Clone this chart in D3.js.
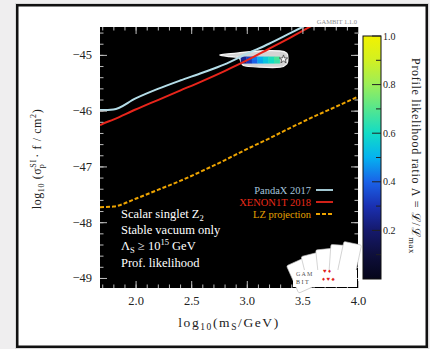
<!DOCTYPE html>
<html>
<head>
<meta charset="utf-8">
<script src="https://cdn.jsdelivr.net/npm/d3@7"></script>
<style>
  html, body { margin: 0; padding: 0; background: #efeeef; }
  svg { display: block; }
  text { font-family: "Liberation Serif", "DejaVu Serif", serif; }
</style>
</head>
<body>
<svg id="fig" width="430" height="349"></svg>
<script>
// ---- data ----
const massTicks = [2.0, 2.5, 3.0, 3.5, 4.0];
const sigmaTicks = [-45, -46, -47, -48, -49];
const ratioTicks = [0.2, 0.4, 0.6, 0.8, 1.0];

// direct-detection limits, log10(m_S/GeV) vs log10(sigma/cm^2)
const limitMass   = [1.68, 1.7, 1.8, 2.0, 2.2, 2.4, 2.6, 2.8, 3.0, 3.2, 3.4, 3.6];
const pandaxSigma = [-45.99, -45.99, -45.98, -45.78, -45.61, -45.46, -45.32, -45.17, -44.98, -44.80, -44.60, -44.40];
const xenonSigma  = [-46.26, -46.24, -46.16, -45.98, -45.81, -45.64, -45.47, -45.29, -45.10, -44.89, -44.68, -44.46];
const lzMass      = [1.68, 1.8, 2.0, 2.2, 2.4, 2.6, 2.8, 3.0, 3.2, 3.4, 3.6, 3.8, 4.0];
const lzSigma     = [-47.73, -47.72, -47.58, -47.42, -47.26, -47.08, -46.89, -46.69, -46.50, -46.30, -46.11, -45.93, -45.75];

// profile likelihood cells
const fitMass = [2.97, 3.02, 3.07, 3.12, 3.17, 3.22, 3.27];
const fitSigma = [-45.06, -45.12];
const fitRatio = [
  [0.26, 0.34, 0.43, 0.50, 0.56, 0.62, 0.68],
  [0.22, 0.31, 0.40, 0.48, 0.54, 0.60, 0.65]
];
// outer (2 sigma) contour
const contourMass  = [2.76, 2.94, 3.12, 3.30, 3.36, 3.37, 3.36, 3.30, 3.12, 2.97, 2.93, 2.84];
const contourSigma = [-45.00, -44.96, -44.93, -44.93, -44.97, -45.06, -45.16, -45.22, -45.22, -45.19, -45.05, -45.03];
const bestFitMass = 3.33, bestFitSigma = -45.08;

// colour map of the likelihood ratio
const ratioStops  = [0.0, 0.1, 0.2, 0.3, 0.4, 0.5, 0.6, 0.7, 0.8, 0.9, 1.0];
const ratioColors = ["#05051a", "#0e0f3c", "#15196c", "#1a30b2", "#1a62e8", "#05b2f0", "#12dcc6", "#55e68e", "#9cee58", "#d2f022", "#f2f200"];

const legendNames  = ["PandaX 2017", "XENON1T 2018", "LZ projection"];
const legendColors = ["#b4dde8", "#e8251b", "#eea400"];
const legendTextColors = ["#a6c4dc", "#ea2a18", "#e6a000"];
const notes = ["Scalar singlet Z", "Stable vacuum only", "Λ", "Prof. likelihood"];

// ---- layout ----
const svg = d3.select("#fig");
const P = { left: 100, right: 358, top: 27, bottom: 288 };

const x = d3.scaleLinear().domain([1.68, 4.0]).range([P.left, P.right]);
const y = d3.scaleLinear().domain([-49.18, -44.5]).range([P.bottom, P.top]);
const cScale = d3.scaleLinear().domain(ratioStops).range(ratioColors).clamp(true);
const cy = d3.scaleLinear().domain([0, 1]).range([279, 36]);

// card
svg.append("rect").attr("x", 15).attr("y", 3).attr("width", 414).attr("height", 346).attr("fill", "#d8d8d8");
svg.append("rect").attr("x", 17.25).attr("y", 5.25).attr("width", 409.5).attr("height", 341.5)
  .attr("fill", "#fff").attr("stroke", "#111").attr("stroke-width", 2.5);

const defs = svg.append("defs");
defs.append("clipPath").attr("id", "plotClip").append("rect")
  .attr("x", P.left).attr("y", P.top).attr("width", P.right - P.left).attr("height", P.bottom - P.top);

// plot background
svg.append("rect").attr("x", P.left).attr("y", P.top)
  .attr("width", P.right - P.left).attr("height", P.bottom - P.top).attr("fill", "#000");

const plot = svg.append("g").attr("clip-path", "url(#plotClip)");

// likelihood region
const contourPts = contourMass.map((m, i) => [x(m), y(contourSigma[i])]);
plot.append("path")
  .attr("d", d3.line().curve(d3.curveCardinalClosed.tension(0.3))(contourPts))
  .attr("fill", "#d4d4d4").attr("stroke", "#f6f6f6").attr("stroke-width", 1.3);

const cellW = x(fitMass[1]) - x(fitMass[0]);
const cellH = y(fitSigma[1]) - y(fitSigma[0]);
fitSigma.forEach((s, r) => {
  plot.selectAll(null).data(fitMass).enter().append("rect")
    .attr("x", d => x(d) - cellW / 2)
    .attr("y", y(s) - Math.abs(cellH) / 2)
    .attr("width", cellW + 0.3)
    .attr("height", Math.abs(cellH) + 0.3)
    .attr("fill", (d, i) => cScale(fitRatio[r][i]));
});
plot.append("path")
  .attr("d", d3.symbol(d3.symbolStar, 22)())
  .attr("transform", `translate(${x(bestFitMass)},${y(bestFitSigma)})`)
  .attr("fill", "#fff").attr("stroke", "#444").attr("stroke-width", 0.8);

// limit curves
const curve = (ms, ss) => d3.line().curve(d3.curveMonotoneX)(ms.map((m, i) => [x(m), y(ss[i])]));
plot.append("path").attr("d", curve(lzMass, lzSigma)).attr("fill", "none")
  .attr("stroke", legendColors[2]).attr("stroke-width", 2).attr("stroke-dasharray", "4,2");
plot.append("path").attr("d", curve(limitMass, xenonSigma)).attr("fill", "none")
  .attr("stroke", legendColors[1]).attr("stroke-width", 2);
plot.append("path").attr("d", curve(limitMass, pandaxSigma)).attr("fill", "none")
  .attr("stroke", legendColors[0]).attr("stroke-width", 2);

// ---- axes (ticks inside the frame) ----
const tickCol = "#bdbdbd";
const minorMass = d3.range(17, 41).map(v => v / 10);
const minorSigma = d3.range(-245, -222).map(v => v / 5);

function styleAxis(g) {
  g.select(".domain").remove();
  g.selectAll(".tick line").attr("stroke", tickCol).attr("stroke-width", 1);
  g.selectAll("text").attr("fill", "#222").attr("font-size", 12.5)
    .attr("font-family", "'Liberation Serif', serif");
}
const fmtMass = d3.format(".1f");
svg.append("g").attr("transform", `translate(0,${P.bottom})`)
  .call(d3.axisBottom(x).tickValues(minorMass).tickSize(-3.5).tickFormat("")).call(styleAxis);
svg.append("g").attr("transform", `translate(0,${P.bottom})`)
  .call(d3.axisBottom(x).tickValues(massTicks).tickSize(-7).tickPadding(8).tickFormat(fmtMass)).call(styleAxis);
svg.append("g").attr("transform", `translate(0,${P.top})`)
  .call(d3.axisTop(x).tickValues(minorMass).tickSize(-3.5).tickFormat("")).call(styleAxis);
svg.append("g").attr("transform", `translate(0,${P.top})`)
  .call(d3.axisTop(x).tickValues(massTicks).tickSize(-7).tickFormat("")).call(styleAxis);

svg.append("g").attr("transform", `translate(${P.left},0)`)
  .call(d3.axisLeft(y).tickValues(minorSigma).tickSize(-3.5).tickFormat("")).call(styleAxis);
svg.append("g").attr("transform", `translate(${P.left},0)`)
  .call(d3.axisLeft(y).tickValues(sigmaTicks).tickSize(-7).tickPadding(8).tickFormat(d3.format("d"))).call(styleAxis);
svg.append("g").attr("transform", `translate(${P.right},0)`)
  .call(d3.axisRight(y).tickValues(minorSigma).tickSize(-3.5).tickFormat("")).call(styleAxis);
svg.append("g").attr("transform", `translate(${P.right},0)`)
  .call(d3.axisRight(y).tickValues(sigmaTicks).tickSize(-7).tickFormat("")).call(styleAxis);

// axis titles
const xt = svg.append("text").attr("x", (P.left + P.right) / 2 + 0).attr("y", 327)
  .attr("text-anchor", "middle").attr("font-size", 13.5).attr("fill", "#222").attr("letter-spacing", 1.6);
xt.append("tspan").text("log");
xt.append("tspan").attr("font-size", 9.5).attr("baseline-shift", "-3").text("10");
xt.append("tspan").text("(m");
xt.append("tspan").attr("font-size", 9.5).attr("baseline-shift", "-3").text("S");
xt.append("tspan").text("/GeV)");

const yt = svg.append("text").attr("transform", "translate(41,159) rotate(-90)")
  .attr("text-anchor", "middle").attr("font-size", 12).attr("fill", "#222").attr("letter-spacing", 0.6);
yt.append("tspan").text("log");
yt.append("tspan").attr("font-size", 8).attr("baseline-shift", "-3").text("10");
yt.append("tspan").text(" (σ");
yt.append("tspan").attr("font-size", 8).attr("baseline-shift", "5").text("SI");
yt.append("tspan").attr("font-size", 8).attr("baseline-shift", "-3").attr("dx", -9).text("p");
yt.append("tspan").attr("dx", 6).text("· f / cm");
yt.append("tspan").attr("font-size", 8).attr("baseline-shift", "5").text("2");
yt.append("tspan").text(")");

// version stamp
svg.append("text").attr("x", P.right - 1).attr("y", 24).attr("text-anchor", "end")
  .attr("font-size", 6.5).attr("fill", "#8a8a8a").text("GAMBIT 1.1.0");

// ---- annotations ----
const noteG = svg.append("g").attr("fill", "#fff").attr("font-size", 12.5);
const n0 = noteG.append("text").attr("x", 121).attr("y", 217.5);
n0.append("tspan").text(notes[0]);
n0.append("tspan").attr("font-size", 8.5).attr("baseline-shift", "-3").text("2");
noteG.append("text").attr("x", 121).attr("y", 234).text(notes[1]);
const n2 = noteG.append("text").attr("x", 121).attr("y", 250);
n2.append("tspan").text(notes[2]);
n2.append("tspan").attr("font-size", 8.5).attr("baseline-shift", "-3").text("S");
n2.append("tspan").text(" ≥ 10");
n2.append("tspan").attr("font-size", 8.5).attr("baseline-shift", "5").text("15");
n2.append("tspan").text(" GeV");
noteG.append("text").attr("x", 121).attr("y", 266.5).text(notes[3]);

// ---- legend ----
const legY = [190, 202, 214];
legendNames.forEach((name, i) => {
  svg.append("text").attr("x", 311).attr("y", legY[i] + 3.5).attr("text-anchor", "end")
    .attr("font-size", 10.5).attr("fill", legendTextColors[i]).text(name);
  svg.append("line").attr("x1", 316).attr("x2", 333).attr("y1", legY[i]).attr("y2", legY[i])
    .attr("stroke", legendColors[i]).attr("stroke-width", 1.8)
    .attr("stroke-dasharray", i === 2 ? "4,2" : null);
});

// ---- GAMBIT logo (cards fan) ----
const logo = svg.append("g");
const cards = [[-24, 300, 274], [-14, 313, 267], [-6, 326, 262], [4, 339, 258], [12, 350, 256]];
cards.forEach(c => {
  logo.append("rect").attr("x", -9).attr("y", -13).attr("width", 18).attr("height", 30).attr("rx", 1.5)
    .attr("transform", `translate(${c[1]},${c[2]}) rotate(${c[0]})`)
    .attr("fill", "#fff").attr("stroke", "#bbb").attr("stroke-width", 0.6);
});
logo.append("rect").attr("x", 293).attr("y", 270).attr("width", 64).attr("height", 17).attr("fill", "#fff");
logo.append("text").attr("x", 296).attr("y", 276).attr("font-size", 6).attr("fill", "#555").text("G A M");
logo.append("text").attr("x", 323).attr("y", 273).attr("font-size", 6).attr("fill", "#e02020").text("♥ ♦");
logo.append("text").attr("x", 296).attr("y", 284).attr("font-size", 6).attr("fill", "#444").text("B I T");
logo.append("text").attr("x", 322).attr("y", 281).attr("font-size", 6).attr("fill", "#e02020").text("♦ ♥ ♠");

// ---- colour bar ----
const grad = defs.append("linearGradient").attr("id", "ratioGrad")
  .attr("x1", 0).attr("y1", 1).attr("x2", 0).attr("y2", 0);
ratioStops.forEach((s, i) => grad.append("stop").attr("offset", s).attr("stop-color", ratioColors[i]));
const cbX = 363, cbW = 18;
svg.append("rect").attr("x", cbX).attr("y", cy(1)).attr("width", cbW).attr("height", cy(0) - cy(1))
  .attr("fill", "url(#ratioGrad)").attr("stroke", "#111").attr("stroke-width", 1);
const cbMinor = d3.range(1, 10, 2).map(v => v / 10);
svg.append("g").selectAll("line").data(cbMinor).enter().append("line")
  .attr("x1", cbX + cbW - 5).attr("x2", cbX + cbW).attr("y1", d => cy(d)).attr("y2", d => cy(d))
  .attr("stroke", "#222").attr("stroke-width", 1);
svg.append("g").selectAll("line").data(ratioTicks).enter().append("line")
  .attr("x1", cbX + cbW - 9).attr("x2", cbX + cbW).attr("y1", d => cy(d)).attr("y2", d => cy(d))
  .attr("stroke", "#222").attr("stroke-width", 1);
svg.append("g").selectAll("text").data(ratioTicks).enter().append("text")
  .attr("x", cbX + cbW + 2).attr("y", d => cy(d) + 3.5).attr("font-size", 10).attr("fill", "#222")
  .text(d => d3.format(".1f")(d));

const ct = svg.append("text").attr("transform", "translate(412,156) rotate(90)")
  .attr("text-anchor", "middle").attr("font-size", 12).attr("fill", "#222").attr("letter-spacing", 0.7);
ct.append("tspan").text("Profile likelihood ratio Λ = ℒ/ℒ");
ct.append("tspan").attr("font-size", 8.5).attr("baseline-shift", "-3").text("max");
</script>
</body>
</html>
